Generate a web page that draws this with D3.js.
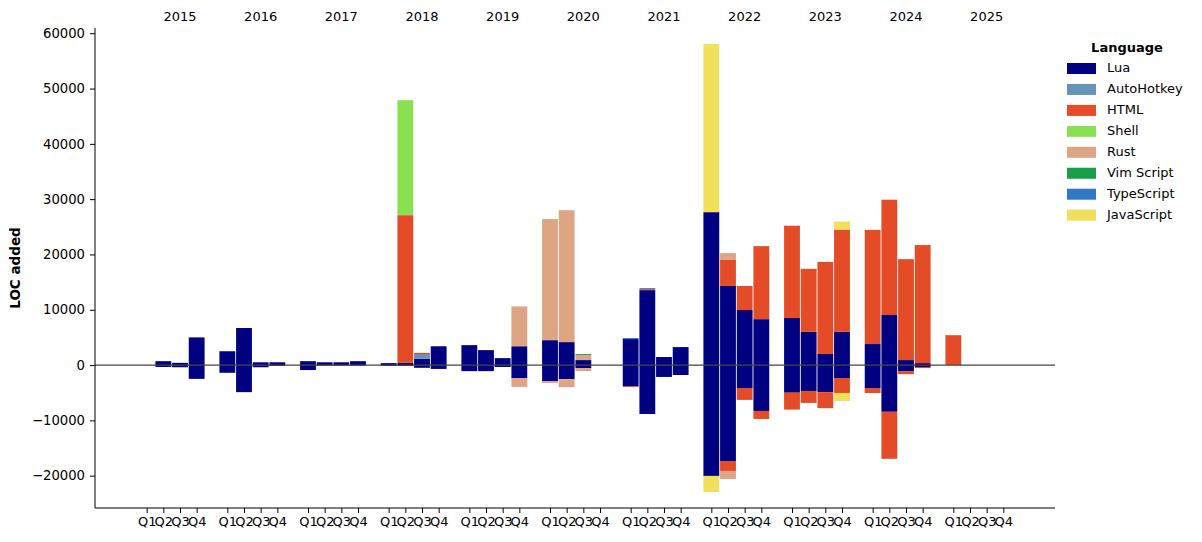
<!DOCTYPE html>
<html>
<head>
<meta charset="utf-8">
<script src="https://cdn.jsdelivr.net/npm/d3@7"></script>
<style>
  body { margin: 0; background: #fff; }
  text { font-family: "DejaVu Sans", sans-serif; }
</style>
</head>
<body>
<svg id="chart" width="1202" height="542"></svg>
<script>
// ---------- DATA ----------
const years = [2015, 2016, 2017, 2018, 2019, 2020, 2021, 2022, 2023, 2024, 2025];
const quarters = ["Q1", "Q2", "Q3", "Q4"];
const languages = ["Lua", "AutoHotkey", "HTML", "Shell", "Rust", "Vim Script", "TypeScript", "JavaScript"];
const colors = ["#000080", "#6594b9", "#e34c26", "#89e051", "#dea584", "#199f4b", "#3178c6", "#f1e05a"];

// 44 quarters each (2015 Q1 ... 2025 Q4), grouped by year
const luaAdded = [
  0, 700, 400, 5000,   2500, 6700, 500, 500,   700, 500, 500, 700,   350, 400, 1150, 3400,
  3600, 2700, 1250, 3400,   4500, 4150, 900, 0,   4700, 13550, 1450, 3250,   27650, 14300, 9950, 8300,
  8500, 6000, 2000, 6000,   3800, 9050, 900, 350,   0, 0, 0, 0];
const luaRemoved = [
  0, -350, -400, -2500,   -1400, -4900, -400, -150,   -900, -100, -100, -100,   -150, -150, -500, -700,
  -1100, -1100, -350, -2350,   -2900, -2550, -550, 0,   -3800, -8850, -2150, -1800,   -20050, -17350, -4150, -8300,
  -5000, -4700, -4900, -2350,   -4150, -8450, -1100, -350,   0, 0, 0, 0];
const autohotkeyAdded = [
  0, 0, 0, 0,   0, 0, 0, 0,   0, 0, 0, 0,   0, 0, 850, 0,
  0, 0, 0, 0,   0, 0, 0, 0,   0, 0, 0, 0,   0, 0, 0, 0,
  0, 0, 0, 0,   0, 0, 0, 0,   0, 0, 0, 0];
const htmlAdded = [
  0, 0, 0, 0,   0, 0, 0, 0,   0, 0, 0, 0,   0, 26700, 200, 0,
  0, 0, 0, 0,   0, 0, 0, 0,   0, 180, 0, 0,   0, 4700, 4350, 13200,
  16700, 11400, 16650, 18500,   20650, 20850, 18250, 21350,   5400, 0, 0, 0];
const htmlRemoved = [
  0, 0, 0, 0,   0, 0, 0, 0,   0, 0, 0, 0,   0, 0, 0, 0,
  0, 0, 0, 0,   0, 0, 0, 0,   -180, 0, 0, 0,   0, -1800, -2150, -1450,
  -3050, -2150, -2900, -2700,   -900, -8500, -550, -200,   0, 0, 0, 0];
const shellAdded = [
  0, 0, 0, 0,   0, 0, 0, 0,   0, 0, 0, 0,   0, 20800, 0, 0,
  0, 0, 0, 0,   0, 0, 0, 0,   0, 0, 0, 0,   0, 0, 0, 0,
  0, 0, 0, 0,   0, 0, 0, 0,   0, 0, 0, 0];
const rustAdded = [
  0, 0, 0, 0,   0, 0, 0, 0,   0, 0, 0, 0,   0, 0, 0, 0,
  0, 0, 0, 7200,   21900, 23850, 900, 0,   0, 0, 0, 0,   0, 1250, 0, 0,
  0, 0, 0, 0,   0, 0, 0, 0,   0, 0, 0, 0];
const rustRemoved = [
  0, 0, 0, 0,   0, 0, 0, 0,   0, 0, 0, 0,   0, 0, 0, 0,
  0, 0, 0, -1600,   -350, -1450, -550, 0,   0, 0, 0, 0,   0, -1450, 0, 0,
  0, 0, 0, 0,   0, 0, 0, 0,   0, 0, 0, 0];
const vimAdded = [
  0, 0, 0, 0,   0, 0, 0, 0,   0, 0, 0, 0,   0, 0, 0, 0,
  0, 0, 0, 0,   0, 0, 180, 0,   0, 0, 0, 0,   0, 0, 0, 0,
  0, 0, 0, 0,   0, 0, 0, 0,   0, 0, 0, 0];
const typescriptAdded = [
  0, 0, 0, 0,   0, 0, 0, 0,   0, 0, 0, 0,   0, 0, 0, 0,
  0, 0, 0, 0,   0, 0, 0, 0,   180, 180, 0, 0,   0, 0, 0, 0,
  0, 0, 0, 0,   0, 0, 0, 0,   0, 0, 0, 0];
const javascriptAdded = [
  0, 0, 0, 0,   0, 0, 0, 0,   0, 0, 0, 0,   0, 0, 0, 0,
  0, 0, 0, 0,   0, 0, 0, 0,   0, 0, 0, 0,   30400, 0, 0, 0,
  0, 0, 0, 1450,   0, 0, 0, 0,   0, 0, 0, 0];
const javascriptRemoved = [
  0, 0, 0, 0,   0, 0, 0, 0,   0, 0, 0, 0,   0, 0, 0, 0,
  0, 0, 0, 0,   0, 0, 0, 0,   0, 0, 0, 0,   -2900, 0, 0, 0,
  0, 0, 0, -1450,   0, 0, 0, 0,   0, 0, 0, 0];
const zeros = new Array(44).fill(0);

const addedSeries = [luaAdded, autohotkeyAdded, htmlAdded, shellAdded, rustAdded, vimAdded, typescriptAdded, javascriptAdded];
const removedSeries = [luaRemoved, zeros, htmlRemoved, zeros, rustRemoved, zeros, zeros, javascriptRemoved];
const yTicks = [-20000, -10000, 0, 10000, 20000, 30000, 40000, 50000, 60000];

// ---------- LAYOUT ----------
const svg = d3.select("#chart");
const plotLeft = 95, plotRight = 1055, plotTop = 28, plotBottom = 508;
const yearStride = 4.84;   // slot units between consecutive years
const barWidth = 0.95;     // slot units

const slot = (yi, q) => yi * yearStride + q;

const x = d3.scaleLinear().domain([-3.1, 54.5]).range([plotLeft, plotRight]);
const y = d3.scaleLinear().domain([-25850, 60950]).range([plotBottom, plotTop]);
const color = d3.scaleOrdinal().domain(languages).range(colors);

// Build stacked segments
const segments = [];
for (let i = 0; i < 44; i++) {
  const yi = Math.floor(i / 4), q = i % 4;
  let pos = 0, neg = 0;
  languages.forEach((lang, li) => {
    const a = addedSeries[li][i];
    if (a > 0) { segments.push({ lang, s: slot(yi, q), y0: pos, y1: pos + a }); pos += a; }
    const r = removedSeries[li][i];
    if (r < 0) { segments.push({ lang, s: slot(yi, q), y0: neg + r, y1: neg }); neg += r; }
  });
}

const bw = x(barWidth) - x(0);
svg.append("g").selectAll("rect").data(segments).join("rect")
  .attr("x", d => x(d.s) - bw / 2)
  .attr("width", bw)
  .attr("y", d => y(d.y1))
  .attr("height", d => y(d.y0) - y(d.y1))
  .attr("fill", d => color(d.lang));

// zero line
svg.append("line")
  .attr("x1", plotLeft).attr("x2", plotRight)
  .attr("y1", y(0)).attr("y2", y(0))
  .attr("stroke", "#444").attr("stroke-width", 1.2);

// Y axis
const fmt = v => (v < 0 ? "\u2212" + Math.abs(v) : String(v));
const yAxis = svg.append("g").attr("transform", `translate(${plotLeft},0)`)
  .call(d3.axisLeft(y).tickValues(yTicks).tickFormat(fmt).tickSize(5).tickPadding(5));
yAxis.select(".domain").attr("d", `M0,${plotTop}V${plotBottom}`).attr("stroke", "#000").attr("stroke-width", 1);
yAxis.selectAll("text").attr("font-size", 13.2).attr("fill", "#000").style("font-family", "DejaVu Sans");

// X axis (quarters)
const qTicks = [];
years.forEach((yr, yi) => quarters.forEach((q, qi) => qTicks.push({ s: slot(yi, qi), label: q })));
const xAxis = svg.append("g").attr("transform", `translate(0,${plotBottom})`)
  .call(d3.axisBottom(x).tickValues(qTicks.map(d => d.s))
    .tickFormat((d, i) => qTicks[i].label).tickSize(5).tickPadding(4));
xAxis.select(".domain").attr("d", `M${plotLeft},0H${plotRight}`).attr("stroke", "#000").attr("stroke-width", 1);
xAxis.selectAll("text").attr("font-size", 13).attr("fill", "#000").style("font-family", "DejaVu Sans");

// Year labels on top
svg.append("g").selectAll("text").data(years).join("text")
  .attr("x", (d, yi) => x(slot(yi, 2)))
  .attr("y", 17)
  .attr("text-anchor", "middle")
  .attr("dominant-baseline", "middle")
  .attr("font-size", 13)
  .text(d => d);

// Y label
svg.append("text")
  .attr("transform", `translate(20,${(plotTop + plotBottom) / 2}) rotate(-90)`)
  .attr("text-anchor", "middle")
  .attr("font-size", 13.5)
  .attr("font-weight", "bold")
  .text("LOC added");

// Legend
const lg = svg.append("g");
lg.append("text").attr("x", 1127).attr("y", 48)
  .attr("text-anchor", "middle").attr("dominant-baseline", "middle")
  .attr("font-size", 13).attr("font-weight", "bold").text("Language");
const items = lg.selectAll("g.item").data(languages).join("g").attr("class", "item")
  .attr("transform", (d, i) => `translate(0,${68.5 + i * 20.95})`);
items.append("rect").attr("x", 1067).attr("y", -5.5).attr("width", 29).attr("height", 11)
  .attr("fill", d => color(d));
items.append("text").attr("x", 1107).attr("y", 0)
  .attr("dominant-baseline", "middle").attr("font-size", 13).text(d => d);
</script>
</body>
</html>
